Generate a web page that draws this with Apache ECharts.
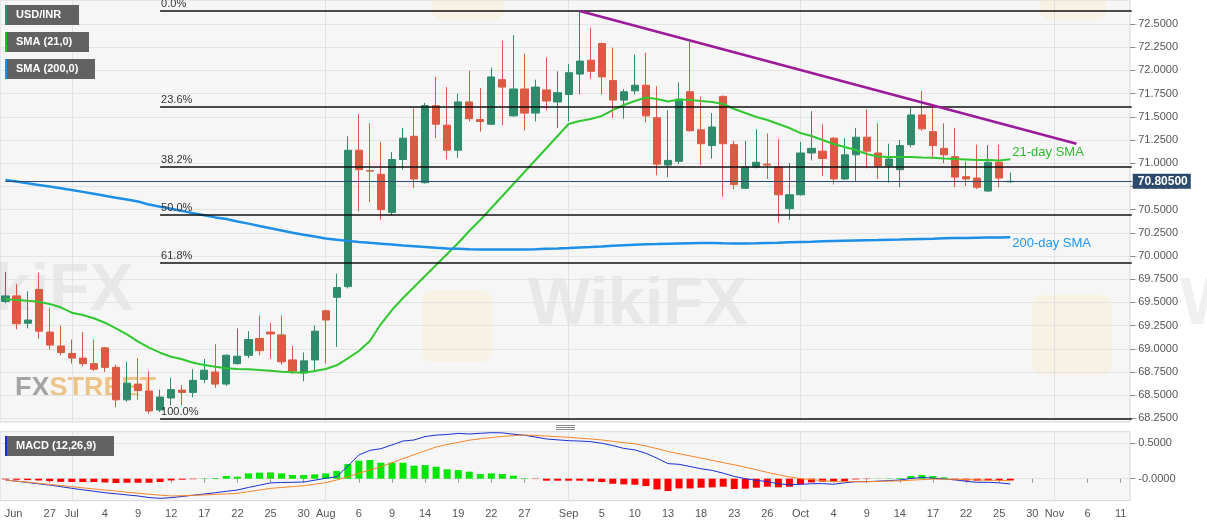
<!DOCTYPE html>
<html>
<head>
<meta charset="utf-8">
<title>USD/INR</title>
<script src="https://cdn.jsdelivr.net/npm/echarts@6/dist/echarts.min.js"></script>
<style>
  html, body { margin: 0; padding: 0; background: #fff; }
  #main { width: 1207px; height: 526px; }
</style>
</head>
<body>
<div id="main"></div>
<script>
// trading days (weekdays), Jun 21 -> Nov 12
const dates = [
  '06-21','06-24','06-25','06-26','06-27','06-28',
  '07-01','07-02','07-03','07-04','07-05','07-08','07-09','07-10','07-11','07-12','07-15','07-16','07-17','07-18','07-19',
  '07-22','07-23','07-24','07-25','07-26','07-29','07-30','07-31',
  '08-01','08-02','08-05','08-06','08-07','08-08','08-09','08-12','08-13','08-14','08-15','08-16','08-19','08-20','08-21',
  '08-22','08-23','08-26','08-27','08-28','08-29','08-30',
  '09-02','09-03','09-04','09-05','09-06','09-09','09-10','09-11','09-12','09-13','09-16','09-17','09-18','09-19','09-20',
  '09-23','09-24','09-25','09-26','09-27','09-30',
  '10-01','10-02','10-03','10-04','10-07','10-08','10-09','10-10','10-11','10-14','10-15','10-16','10-17','10-18','10-21',
  '10-22','10-23','10-24','10-25','10-28','10-29','10-30','10-31',
  '11-01','11-04','11-05','11-06','11-07','11-08','11-11','11-12'
];

// daily OHLC, Jun 21 -> Oct 28
const opens = [
  69.51,69.57,69.275,69.64,69.18,69.03,68.95,68.90,68.84,69.01,
  68.80,68.45,68.62,68.545,68.34,68.47,68.555,68.53,68.67,68.75,
  68.62,68.84,68.93,69.11,69.18,69.15,68.88,68.74,68.88,69.41,
  69.555,69.67,71.14,70.92,70.88,70.47,71.04,71.29,70.79,71.62,
  71.41,71.14,71.66,71.47,71.42,71.90,71.51,71.80,71.54,71.79,
  71.66,71.74,71.96,72.11,72.29,71.89,71.68,71.78,71.84,71.49,
  70.98,71.02,71.77,71.36,71.19,71.72,71.20,70.73,70.96,70.99,
  70.96,70.51,70.66,71.11,71.13,71.27,70.83,71.09,71.28,71.11,
  70.97,70.93,71.20,71.52,71.34,71.16,71.07,70.855,70.84,70.70,
  71.01,70.80
];
const highs = [
  69.83,69.70,69.62,69.82,69.44,69.25,69.10,69.18,69.10,69.02,
  68.83,68.86,68.90,68.76,68.56,68.69,68.61,68.78,68.89,69.05,
  68.94,69.22,69.19,69.36,69.28,69.36,69.03,68.96,69.25,69.42,
  69.81,71.29,71.53,71.43,71.23,71.12,71.38,71.59,71.65,71.93,
  71.82,71.75,71.995,71.81,72.03,72.32,72.38,72.18,71.90,72.14,
  71.99,72.07,72.63,72.46,72.30,72.245,71.80,72.17,72.19,71.83,
  71.57,71.87,72.31,71.72,71.54,71.73,71.24,71.24,71.365,71.32,
  71.26,71.00,71.23,71.56,71.42,71.28,71.27,71.38,71.58,71.43,
  71.21,71.25,71.60,71.78,71.62,71.43,71.38,71.02,71.20,71.196,
  71.20,70.90
];
const lows = [
  69.49,69.21,69.22,69.11,68.99,68.93,68.84,68.81,68.76,68.75,
  68.37,68.43,68.45,68.30,68.32,68.39,68.39,68.48,68.63,68.58,
  68.60,68.83,68.90,68.93,68.89,68.83,68.73,68.65,68.75,68.84,
  69.02,69.65,70.48,70.58,70.39,70.44,70.93,70.73,70.78,71.27,
  71.04,71.06,71.45,71.34,71.41,71.41,71.50,71.35,71.45,71.57,
  71.38,71.45,71.74,71.91,71.74,71.49,71.48,71.74,71.44,70.87,
  70.85,70.99,71.34,70.98,71.05,70.64,70.72,70.72,70.945,70.83,
  70.36,70.39,70.65,71.03,70.86,70.77,70.82,70.81,70.945,70.83,
  70.79,70.74,71.17,71.35,71.07,71.00,70.74,70.755,70.72,70.69,
  70.74,70.79
];
const closes = [
  69.57,69.27,69.31,69.19,69.04,68.96,68.90,68.84,68.78,68.80,
  68.45,68.63,68.55,68.33,68.48,68.56,68.53,68.66,68.77,68.62,
  68.93,68.92,69.10,68.98,69.16,68.86,68.76,68.87,69.19,69.31,
  69.66,71.14,70.93,70.915,70.50,71.04,71.27,70.83,71.62,71.42,
  71.14,71.66,71.48,71.45,71.93,71.82,71.80,71.54,71.82,71.67,
  71.76,71.975,72.10,71.99,71.93,71.68,71.77,71.84,71.51,70.99,
  71.03,71.69,71.35,71.21,71.39,71.21,70.77,70.96,71.01,70.98,
  70.66,70.66,71.11,71.16,71.05,70.83,71.09,71.28,71.13,70.97,
  71.045,71.19,71.52,71.37,71.19,71.09,70.85,70.83,70.74,71.01,
  70.84,70.805
];

const sma21 = [
  69.533,69.526,69.518,69.508,69.483,69.447,69.389,69.364,69.329,69.281,
  69.221,69.156,69.077,69.012,68.958,68.915,68.887,68.850,68.825,68.807,
  68.790,68.782,68.779,68.772,68.764,68.753,68.747,68.742,68.761,68.782,
  68.822,68.896,68.976,69.084,69.267,69.418,69.547,69.666,69.785,69.903,
  70.022,70.140,70.269,70.388,70.517,70.647,70.776,70.905,71.035,71.164,
  71.293,71.422,71.455,71.476,71.509,71.573,71.627,71.670,71.708,71.692,
  71.665,71.686,71.681,71.670,71.660,71.638,71.584,71.541,71.498,71.466,
  71.422,71.379,71.325,71.293,71.250,71.207,71.175,71.142,71.099,71.072,
  71.067,71.067,71.067,71.061,71.059,71.051,71.045,71.040,71.035,71.035,
  71.029,71.042
];
const sma200 = [
  70.819,70.802,70.783,70.766,70.748,70.731,70.711,70.691,70.670,70.649,
  70.628,70.608,70.587,70.554,70.531,70.509,70.486,70.461,70.439,70.416,
  70.398,70.372,70.349,70.323,70.299,70.275,70.251,70.228,70.209,70.189,
  70.175,70.163,70.152,70.142,70.133,70.124,70.113,70.105,70.097,70.088,
  70.081,70.077,70.073,70.070,70.069,70.069,70.070,70.071,70.074,70.078,
  70.081,70.086,70.092,70.097,70.103,70.110,70.116,70.122,70.126,70.129,
  70.133,70.136,70.138,70.140,70.139,70.137,70.136,70.135,70.137,70.140,
  70.143,70.147,70.151,70.154,70.158,70.162,70.165,70.168,70.170,70.172,
  70.175,70.177,70.180,70.183,70.186,70.190,70.193,70.195,70.197,70.199,
  70.200,70.201
];

// MACD (12,26,9)
const macdLine = [
  -0.018,-0.035,-0.054,-0.072,-0.089,-0.112,-0.136,-0.157,-0.177,-0.198,
  -0.213,-0.229,-0.244,-0.266,-0.277,-0.268,-0.251,-0.233,-0.216,-0.198,
  -0.178,-0.160,-0.124,-0.092,-0.059,-0.054,-0.051,-0.047,-0.021,0.006,
  0.028,0.179,0.335,0.400,0.424,0.477,0.532,0.547,0.595,0.616,
  0.624,0.640,0.631,0.641,0.650,0.647,0.629,0.614,0.588,0.561,
  0.549,0.537,0.532,0.523,0.501,0.468,0.428,0.407,0.359,0.290,
  0.213,0.203,0.172,0.140,0.117,0.078,0.032,0.001,-0.024,-0.041,
  -0.072,-0.085,-0.079,-0.071,-0.069,-0.078,-0.058,-0.042,-0.042,-0.035,
  -0.027,-0.018,0.003,0.017,0.007,-0.004,-0.016,-0.037,-0.051,-0.051,
  -0.058,-0.075
];
const signalLine = [
  -0.018,-0.034,-0.049,-0.065,-0.081,-0.096,-0.113,-0.129,-0.144,-0.160,
  -0.175,-0.191,-0.205,-0.219,-0.232,-0.244,-0.240,-0.234,-0.230,-0.222,
  -0.215,-0.206,-0.184,-0.160,-0.137,-0.124,-0.112,-0.099,-0.078,-0.056,
  -0.018,0.028,0.076,0.123,0.169,0.226,0.284,0.339,0.394,0.448,
  0.483,0.513,0.544,0.564,0.581,0.597,0.609,0.617,0.610,0.602,
  0.593,0.585,0.572,0.561,0.547,0.528,0.510,0.492,0.462,0.425,
  0.384,0.353,0.322,0.291,0.260,0.227,0.196,0.162,0.127,0.089,
  0.056,0.024,0.001,-0.013,-0.027,-0.041,-0.042,-0.042,-0.042,-0.038,
  -0.034,-0.030,-0.021,-0.013,-0.006,-0.007,-0.008,-0.011,-0.017,-0.021,
  -0.025,-0.028
];
const histogram = [
  -0.010,-0.015,-0.020,-0.025,-0.035,-0.045,-0.047,-0.047,-0.047,-0.052,
  -0.061,-0.057,-0.057,-0.057,-0.047,-0.024,-0.014,-0.007,0.005,0.010,
  0.038,0.028,0.075,0.085,0.089,0.075,0.052,0.052,0.061,0.075,
  0.108,0.207,0.254,0.264,0.226,0.226,0.226,0.184,0.193,0.169,
  0.132,0.122,0.099,0.066,0.075,0.066,0.042,0.007,-0.005,-0.028,
  -0.028,-0.028,-0.028,-0.038,-0.047,-0.071,-0.080,-0.085,-0.104,-0.151,
  -0.174,-0.137,-0.137,-0.127,-0.122,-0.113,-0.146,-0.141,-0.127,-0.113,
  -0.122,-0.113,-0.080,-0.052,-0.042,-0.042,-0.033,-0.010,-0.005,0.003,
  0.005,0.010,0.038,0.052,0.038,0.019,-0.020,-0.025,-0.028,-0.025,
  -0.028,-0.025
];

// axis labels
const tickLabels = [
  ['06-24','Jun'],['06-27','27'],['07-01','Jul'],['07-04','4'],['07-09','9'],['07-12','12'],
  ['07-17','17'],['07-22','22'],['07-25','25'],['07-30','30'],['08-01','Aug'],['08-06','6'],
  ['08-09','9'],['08-14','14'],['08-19','19'],['08-22','22'],['08-27','27'],['09-02','Sep'],
  ['09-05','5'],['09-10','10'],['09-13','13'],['09-18','18'],['09-23','23'],['09-26','26'],
  ['10-01','Oct'],['10-04','4'],['10-09','9'],['10-14','14'],['10-17','17'],['10-22','22'],
  ['10-25','25'],['10-30','30'],['11-01','Nov'],['11-06','6'],['11-11','11']
];
const monthStarts = ['07-01','08-01','09-02','10-01','11-01'];
const priceTicks = [68.25,68.5,68.75,69,69.25,69.5,69.75,70,70.25,70.5,70.75,71,71.25,71.5,71.75,72,72.25,72.5];
const macdTicks = [0, 0.5];

// annotations
const fibLevels = [['0.0%',72.648],['23.6%',71.609],['38.2%',70.966],['50.0%',70.447],['61.8%',69.927],['100.0%',68.245]];
const fibStart = '07-11';
const trendLine = [['09-03',72.64],['11-05',71.21]];
const lastPrice = 70.805;

const labelMap = {};
tickLabels.forEach(([d, t]) => { labelMap[d] = t; });
const lastCat = dates[dates.length - 1];

const UP = '#2e8b6c', DOWN = '#dc5a43';
const FONT = '"Liberation Sans", Arial, sans-serif';

const chart = echarts.init(document.getElementById('main'));

const markLines = [];
fibLevels.forEach(([name, v]) => {
  markLines.push([
    { coord: [fibStart, v], lineStyle: { color: '#111', width: 1.5, type: 'solid' },
      label: { show: true, position: 'insideStartTop', formatter: name, color: '#333',
               fontSize: 11, fontFamily: FONT, distance: 1 } },
    { coord: [lastCat, v] }
  ]);
});
markLines.push([
  { coord: trendLine[0], lineStyle: { color: '#9a1a9a', width: 2.5, type: 'solid' }, label: { show: false } },
  { coord: trendLine[1] }
]);
markLines.push([
  { coord: [dates[0], lastPrice], lineStyle: { color: '#2c4a6c', width: 1, type: 'solid' },
    label: { show: true, position: 'end', formatter: lastPrice.toFixed(5), color: '#fff',
             backgroundColor: '#2c4a6c', fontWeight: 'bold', fontSize: 12, fontFamily: FONT,
             padding: [2, 3, 1, 5], distance: 1 } },
  { coord: [lastCat, lastPrice] }
]);

const monthMark = {
  silent: true, symbol: 'none', z: 1, label: { show: false },
  lineStyle: { color: '#e2e2e2', width: 1, type: 'solid' },
  data: monthStarts.map(d => ({ xAxis: d }))
};

function legendBox(y, w, text, stripe) {
  return [
    { type: 'rect', z: 50, shape: { x: 5, y: y, width: w, height: 20 }, style: { fill: '#626262' } },
    { type: 'rect', z: 51, shape: { x: 5, y: y, width: 2, height: 20 }, style: { fill: stripe } },
    { type: 'text', z: 52, x: 16, y: y + 10,
      style: { text: text, fill: '#fff', font: 'bold 11px ' + FONT, verticalAlign: 'middle' } }
  ];
}

const option = {
  animation: false,
  backgroundColor: '#fff',
  textStyle: { fontFamily: FONT },
  grid: [
    { left: -5.55, top: 0, width: 1142.8, height: 422 },
    { left: -5.55, top: 431.7, width: 1142.8, height: 69 }
  ],
  xAxis: [
    { type: 'category', gridIndex: 0, data: dates, boundaryGap: true,
      axisLine: { show: false }, axisTick: { show: false }, axisLabel: { show: false }, splitLine: { show: false } },
    { type: 'category', gridIndex: 1, data: dates, boundaryGap: true,
      axisLine: { show: false },
      axisTick: { show: true, alignWithLabel: true, length: 4, lineStyle: { color: '#999' },
                  interval: (i, v) => labelMap[v] !== undefined && i > 1 },
      axisLabel: { show: true, color: '#555', fontSize: 11, margin: 8,
                   interval: (i, v) => labelMap[v] !== undefined,
                   formatter: v => (v === '06-24' ? '{j|' + labelMap[v] + '}' : (labelMap[v] || '')),
                   rich: { j: { color: '#555', fontSize: 11, padding: [0, 6, 0, 0] } } },
      splitLine: { show: false } }
  ],
  yAxis: [
    { type: 'value', gridIndex: 0, position: 'right', offset: -7, min: 68.2112, max: 72.7586,
      axisLine: { show: false },
      axisTick: { show: true, length: 5, lineStyle: { color: '#888' }, customValues: priceTicks },
      axisLabel: { color: '#555', fontSize: 11, margin: 8, customValues: priceTicks, formatter: v => v.toFixed(4) },
      splitLine: { show: true, lineStyle: { color: '#e4e4e4' } } },
    { type: 'value', gridIndex: 1, position: 'right', offset: -7, min: -0.3107, max: 0.6638,
      axisLine: { show: false },
      axisTick: { show: true, length: 5, lineStyle: { color: '#888' }, customValues: macdTicks },
      axisLabel: { color: '#555', fontSize: 11, margin: 8, customValues: macdTicks,
                   formatter: v => (v === 0 ? '-0.0000' : v.toFixed(4)) },
      splitLine: { show: true, lineStyle: { color: '#e4e4e4' } } }
  ],
  graphic: [
    { type: 'rect', z: -10, silent: true, shape: { x: 0, y: 0, width: 1130, height: 422 },
      style: { fill: '#f6f6f6', stroke: '#d6d6d6', lineWidth: 1 } },
    { type: 'rect', z: -10, silent: true, shape: { x: 0, y: 431.7, width: 1130, height: 69 },
      style: { fill: '#f6f6f6', stroke: '#d6d6d6', lineWidth: 1 } },
    // watermarks
    { type: 'text', z: -5, silent: true, x: -86, y: 292,
      style: { text: 'WikiFX', fill: 'rgba(170,170,170,0.18)', font: 'bold 66px ' + FONT, verticalAlign: 'middle' } },
    { type: 'text', z: -5, silent: true, x: 528, y: 306,
      style: { text: 'WikiFX', fill: 'rgba(170,170,170,0.18)', font: 'bold 66px ' + FONT, verticalAlign: 'middle' } },
    { type: 'text', z: -5, silent: true, x: 1180, y: 306,
      style: { text: 'WikiFX', fill: 'rgba(170,170,170,0.18)', font: 'bold 66px ' + FONT, verticalAlign: 'middle' } },
    { type: 'rect', z: -6, silent: true, shape: { x: 422, y: 290, width: 70, height: 72, r: 10 },
      style: { fill: 'rgba(250,228,160,0.22)' } },
    { type: 'rect', z: -6, silent: true, shape: { x: 1032, y: 295, width: 80, height: 80, r: 10 },
      style: { fill: 'rgba(250,228,160,0.22)' } },
    { type: 'rect', z: -6, silent: true, shape: { x: 432, y: -50, width: 72, height: 70, r: 10 },
      style: { fill: 'rgba(250,228,160,0.22)' } },
    { type: 'rect', z: -6, silent: true, shape: { x: 1040, y: -50, width: 66, height: 70, r: 10 },
      style: { fill: 'rgba(250,228,160,0.22)' } },
    { type: 'text', z: -5, silent: true, x: 15, y: 389,
      style: { text: '{a|FX}{b|STREET}', verticalAlign: 'middle',
               rich: { a: { fill: 'rgba(130,130,130,0.7)', font: 'bold 27px "Liberation Sans Narrow", ' + FONT },
                       b: { fill: 'rgba(232,175,90,0.7)', font: 'bold 27px "Liberation Sans Narrow", ' + FONT } } } },
    // panel separator handle
    { type: 'line', silent: true, shape: { x1: 556, y1: 425.5, x2: 575, y2: 425.5 }, style: { stroke: '#888', lineWidth: 1 } },
    { type: 'line', silent: true, shape: { x1: 556, y1: 427.5, x2: 575, y2: 427.5 }, style: { stroke: '#888', lineWidth: 1 } },
    { type: 'line', silent: true, shape: { x1: 556, y1: 429.5, x2: 575, y2: 429.5 }, style: { stroke: '#888', lineWidth: 1 } },
    ...legendBox(5, 74, 'USD/INR', UP),
    ...legendBox(32, 84, 'SMA (21,0)', '#22c022'),
    ...legendBox(59, 90, 'SMA (200,0)', '#1d8fe6'),
    ...legendBox(436, 109, 'MACD (12,26,9)', '#1a2fd0')
  ],
  series: [
    { name: 'USD/INR', type: 'candlestick', xAxisIndex: 0, yAxisIndex: 0, clip: false, z: 3,
      barWidth: 7.7,
      data: opens.map((o, i) => [o, closes[i], lows[i], highs[i]]),
      itemStyle: { color: UP, color0: DOWN, borderColor: UP, borderColor0: DOWN, borderWidth: 1 },
      markLine: { silent: true, symbol: 'none', label: { show: false }, data: markLines } },
    { name: 'SMA (21,0)', type: 'line', xAxisIndex: 0, yAxisIndex: 0, data: sma21, z: 4,
      symbol: 'none', smooth: false, lineStyle: { color: '#31c731', width: 2 },
      endLabel: { show: true, formatter: '21-day SMA', color: '#2db82d', fontSize: 13, fontFamily: FONT,
                  distance: 2, offset: [0, -7] } },
    { name: 'SMA (200,0)', type: 'line', xAxisIndex: 0, yAxisIndex: 0, data: sma200, z: 4,
      symbol: 'none', lineStyle: { color: '#1d8fe6', width: 2.5 },
      endLabel: { show: true, formatter: '200-day SMA', color: '#2196f3', fontSize: 13, fontFamily: FONT,
                  distance: 2, offset: [0, 6] },
      markLine: monthMark },
    { name: 'Histogram', type: 'bar', xAxisIndex: 1, yAxisIndex: 1, barWidth: 7, z: 2,
      data: histogram.map(v => ({ value: v, itemStyle: { color: v >= 0 ? '#00e600' : '#ff0000' } })) },
    { name: 'MACD', type: 'line', xAxisIndex: 1, yAxisIndex: 1, data: macdLine, z: 4,
      symbol: 'none', lineStyle: { color: '#1a2fd0', width: 1 } },
    { name: 'Signal', type: 'line', xAxisIndex: 1, yAxisIndex: 1, data: signalLine, z: 4,
      symbol: 'none', lineStyle: { color: '#f5862a', width: 1 },
      markLine: monthMark }
  ]
};

chart.setOption(option);
</script>
</body>
</html>
